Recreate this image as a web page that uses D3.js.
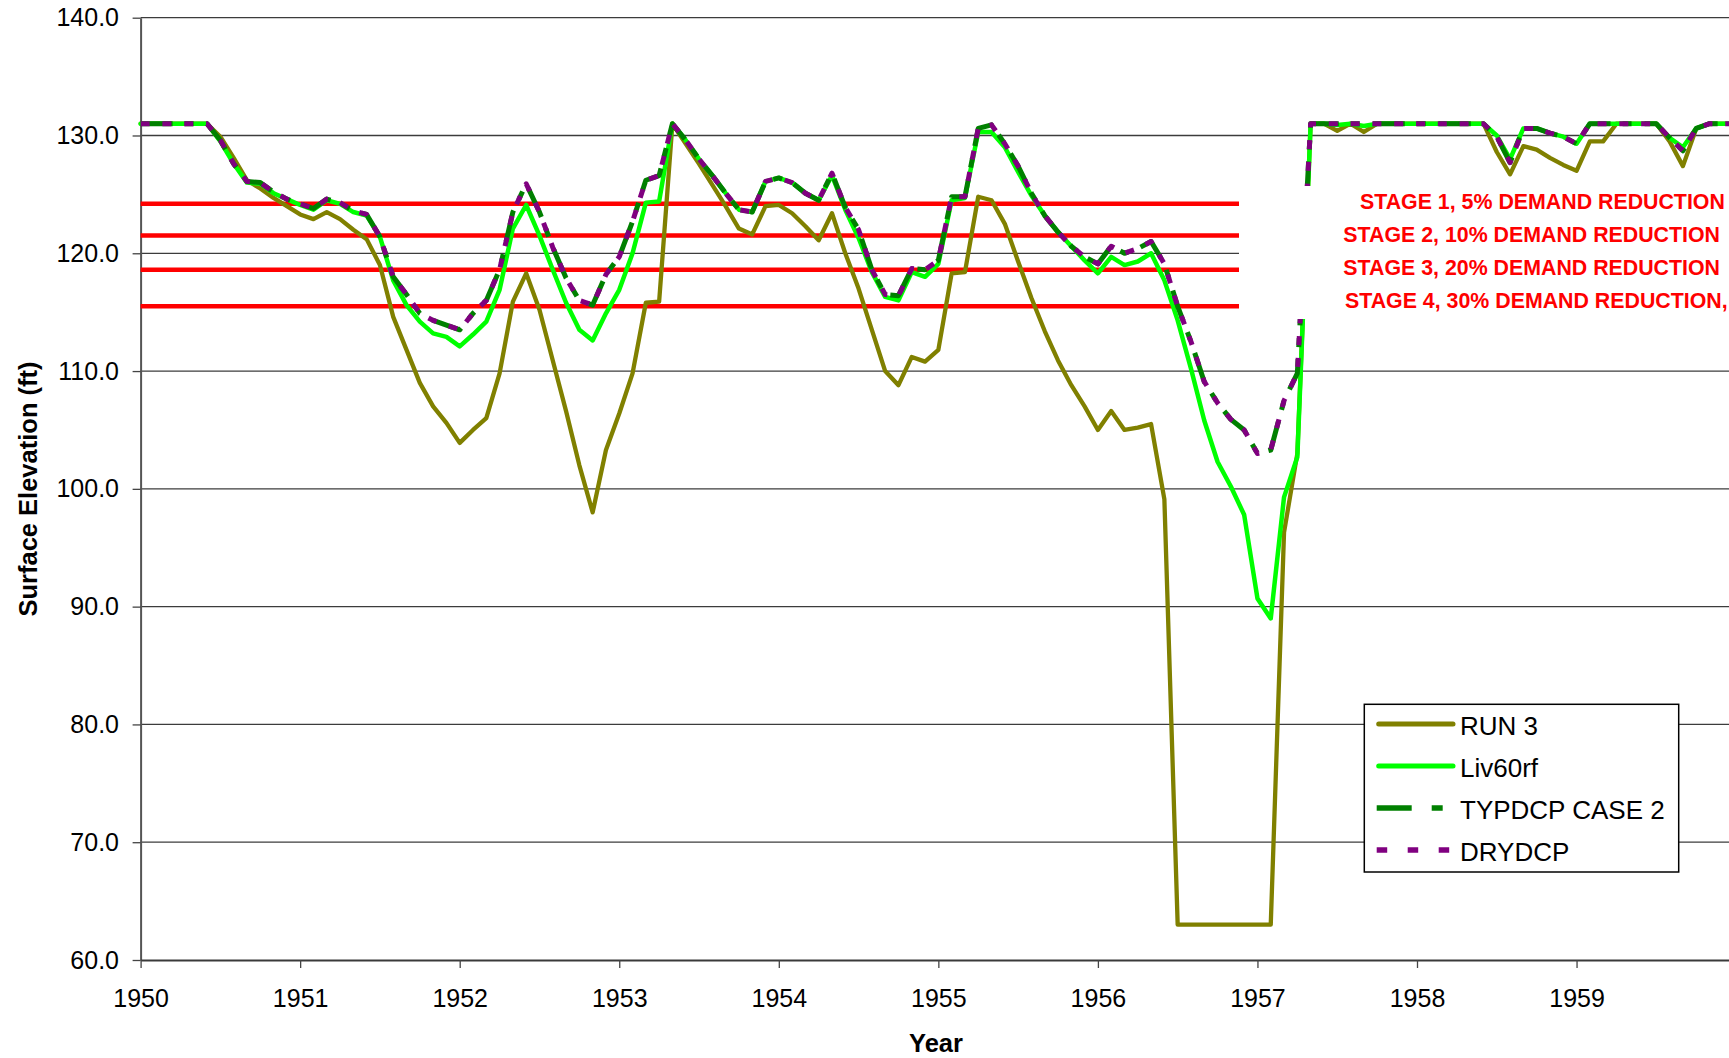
<!DOCTYPE html>
<html>
<head>
<meta charset="utf-8">
<script src="https://cdn.jsdelivr.net/npm/d3@7"></script>
<style>
  html, body { margin: 0; padding: 0; background: #fff; overflow: hidden; }
  svg { display: block; }
  text { font-family: "Liberation Sans", Arial, Helvetica, sans-serif; }
</style>
</head>
<body>
<svg id="chart" width="1729" height="1058"></svg>
<script>
// Monthly reservoir surface elevation (ft), January 1950 onward
const startYear = 1950;

const run3 = [
  131.0,131.0,131.0,131.0,131.0,131.0,
  129.9,128.1,126.2,125.5,124.7,124.0,
  123.3,122.9,123.5,122.9,122.0,121.2,
  119.0,114.6,111.8,109.0,107.0,105.6,
  103.9,105.0,106.0,109.8,115.9,118.3,
  115.2,110.9,106.6,102.0,98.0,103.3,
  106.4,109.8,115.8,115.9,131.0,129.3,
  127.6,125.8,124.0,122.1,121.6,124.0,
  124.1,123.4,122.3,121.1,123.4,120.0,
  117.0,113.5,110.0,108.8,111.2,110.8,
  111.8,118.3,118.4,124.8,124.5,122.5,
  119.3,116.2,113.4,110.9,108.8,107.0,
  105.0,106.6,105.0,105.2,105.5,99.1,
  63.0,63.0,63.0,63.0,63.0,63.0,
  63.0,63.0,96.3,103.0,131.0,131.0,
  130.4,131.0,130.3,131.0,131.0,131.0,
  131.0,131.0,131.0,131.0,131.0,131.0,
  128.6,126.7,129.1,128.8,128.1,127.5,
  127.0,129.5,129.5,131.0,131.0,131.0,
  131.0,129.5,127.4,130.6,131.0,131.0,
  131.0
];

const liv60rf = [
  131.0,131.0,131.0,131.0,131.0,131.0,
  129.5,127.6,126.0,125.9,125.1,124.6,
  124.1,123.7,124.5,124.2,123.5,123.2,
  121.4,117.7,115.6,114.2,113.2,112.9,
  112.1,113.1,114.2,116.9,122.1,124.1,
  121.5,118.6,115.8,113.5,112.6,114.9,
  116.9,120.0,124.3,124.4,131.0,129.6,
  128.0,126.6,125.1,123.7,123.5,126.1,
  126.4,126.0,125.1,124.5,126.6,123.7,
  121.3,118.4,116.3,116.0,118.4,118.0,
  119.1,124.5,124.7,130.3,130.3,129.0,
  126.9,124.9,123.2,121.8,120.6,119.4,
  118.3,119.7,119.0,119.3,120.0,117.7,
  114.3,110.2,105.8,102.3,100.2,97.8,
  90.7,89.0,99.3,102.7,131.0,131.0,
  130.9,131.0,130.8,131.0,131.0,131.0,
  131.0,131.0,131.0,131.0,131.0,131.0,
  130.0,128.0,130.6,130.6,130.2,129.9,
  129.3,131.0,131.0,131.0,131.0,131.0,
  131.0,129.8,129.0,130.6,131.0,131.0,
  131.0
];

const typdcpCase2 = [
  131.0,131.0,131.0,131.0,131.0,131.0,
  129.6,127.6,126.1,126.0,125.2,124.6,
  124.2,123.8,124.6,124.3,123.6,123.3,
  121.4,118.0,116.5,114.9,114.3,113.9,
  113.5,114.9,116.0,118.6,123.5,125.9,
  123.5,120.5,117.9,116.0,115.6,118.2,
  119.7,122.7,126.2,126.6,131.0,129.6,
  128.0,126.6,125.1,123.7,123.5,126.1,
  126.4,126.0,125.1,124.5,126.8,123.9,
  122.0,118.6,116.5,116.4,118.7,118.6,
  119.4,124.8,124.8,130.6,130.9,129.3,
  127.4,125.1,123.2,121.8,120.6,119.7,
  119.1,120.6,120.0,120.4,121.0,119.1,
  115.5,112.5,109.1,107.3,105.9,105.0,
  103.0,103.3,107.5,109.8,131.0,131.0,
  131.0,131.0,131.0,131.0,131.0,131.0,
  131.0,131.0,131.0,131.0,131.0,131.0,
  129.9,127.7,130.6,130.6,130.2,129.9,
  129.3,131.0,131.0,131.0,131.0,131.0,
  131.0,129.8,128.7,130.6,131.0,131.0,
  131.0
];

const drydcp = [
  131.0,131.0,131.0,131.0,131.0,131.0,
  129.6,127.6,126.1,126.0,125.2,124.6,
  124.2,123.8,124.6,124.3,123.6,123.3,
  121.4,118.0,116.5,114.9,114.3,113.9,
  113.5,114.9,116.0,118.6,123.5,125.9,
  123.5,120.5,117.9,116.0,115.6,118.2,
  119.7,122.7,126.2,126.6,131.0,129.6,
  128.0,126.6,125.1,123.7,123.5,126.1,
  126.4,126.0,125.1,124.5,126.8,123.9,
  122.0,118.6,116.5,116.4,118.7,118.6,
  119.4,124.8,124.8,130.6,130.9,129.3,
  127.4,125.1,123.2,121.8,120.6,119.7,
  119.1,120.6,120.0,120.4,121.0,119.1,
  115.5,112.5,109.1,107.3,105.9,105.0,
  103.0,103.3,107.5,109.8,131.0,131.0,
  131.0,131.0,131.0,131.0,131.0,131.0,
  131.0,131.0,131.0,131.0,131.0,131.0,
  129.9,127.7,130.6,130.6,130.2,129.9,
  129.3,131.0,131.0,131.0,131.0,131.0,
  131.0,129.8,128.7,130.6,131.0,131.0,
  131.0
];

// Drought stage trigger elevations (ft)
const stageLevels = [124.2, 121.5, 118.6, 115.5];
const stageLabels = [
  "STAGE 1, 5% DEMAND REDUCTION",
  "STAGE 2, 10% DEMAND REDUCTION",
  "STAGE 3, 20% DEMAND REDUCTION",
  "STAGE 4, 30% DEMAND REDUCTION,"
];

const yearTicks = [1950, 1951, 1952, 1953, 1954, 1955, 1956, 1957, 1958, 1959];
const elevationTicks = [60, 70, 80, 90, 100, 110, 120, 130, 140];

const seriesNames = ["RUN 3", "Liv60rf", "TYPDCP CASE 2", "DRYDCP"];

// ---------------------------------------------------------------
const svg = d3.select("#chart");
const W = 1729, H = 1058;

const x = d3.scaleLinear().domain([1950, 1960]).range([140.6, 1736.1]);
const y = d3.scaleLinear().domain([60, 140]).range([960, 17.7]);

const series = [
  { name: seriesNames[0], values: run3,        color: "#808000", width: 4.3, dash: null,        cap: "round" },
  { name: seriesNames[1], values: liv60rf,     color: "#00ff00", width: 4.5, dash: null,        cap: "round" },
  { name: seriesNames[2], values: typdcpCase2, color: "#008000", width: 5,   dash: "32,12,9,13", cap: "butt" },
  { name: seriesNames[3], values: drydcp,      color: "#800080", width: 5,   dash: "9,12.8",     cap: "butt" }
];

// horizontal gridlines
svg.append("g")
  .selectAll("line")
  .data(elevationTicks.filter(v => v > 60))
  .join("line")
  .attr("x1", x(1950)).attr("x2", x(1960))
  .attr("y1", d => y(d)).attr("y2", d => y(d))
  .attr("stroke", "#3c3c3c")
  .attr("stroke-width", 1.3);

// y axis
const yAxis = svg.append("g")
  .attr("transform", `translate(${x(1950)},0)`)
  .call(d3.axisLeft(y)
    .tickValues(elevationTicks)
    .tickFormat(d3.format(".1f"))
    .tickSize(8)
    .tickSizeOuter(0)
    .tickPadding(13.6));
yAxis.select(".domain").attr("stroke", "#555").attr("stroke-width", 2);
yAxis.selectAll(".tick line").attr("stroke", "#444").attr("stroke-width", 1.3);
yAxis.selectAll(".tick text")
  .attr("font-size", 25).attr("fill", "#000")
  .style("font-family", '"Liberation Sans", Arial, sans-serif');

// x axis
const xAxis = svg.append("g")
  .attr("transform", `translate(0,${y(60)})`)
  .call(d3.axisBottom(x)
    .tickValues(yearTicks)
    .tickFormat(d3.format("d"))
    .tickSize(8)
    .tickSizeOuter(0));
xAxis.select(".domain").attr("stroke", "#3a3a3a").attr("stroke-width", 2.2);
xAxis.selectAll(".tick line").attr("stroke", "#444").attr("stroke-width", 1.3);
xAxis.selectAll(".tick text")
  .attr("dy", null).attr("y", 47)
  .attr("font-size", 25).attr("fill", "#000")
  .style("font-family", '"Liberation Sans", Arial, sans-serif');

// drought stage trigger lines
svg.append("g")
  .selectAll("line")
  .data(stageLevels)
  .join("line")
  .attr("x1", x(1950)).attr("x2", x(1960))
  .attr("y1", d => y(d)).attr("y2", d => y(d))
  .attr("stroke", "#ff0000")
  .attr("stroke-width", 4.5);

// elevation traces
const line = d3.line()
  .x((d, i) => x(startYear + i / 12))
  .y(d => y(d));

svg.append("g")
  .selectAll("path")
  .data(series)
  .join("path")
  .attr("d", d => line(d.values))
  .attr("fill", "none")
  .attr("stroke", d => d.color)
  .attr("stroke-width", d => d.width)
  .attr("stroke-linejoin", "round")
  .attr("stroke-linecap", d => d.cap)
  .attr("stroke-dasharray", d => d.dash);

// stage caption panel
const panel = svg.append("g");
panel.append("rect")
  .attr("x", 1239).attr("y", 186)
  .attr("width", W - 1239 + 10).attr("height", 133)
  .attr("fill", "#fff");
const stageX = [1360, 1343.3, 1343.3, 1345];
const stageY = [209, 242.3, 275, 308.3];
panel.selectAll("text")
  .data(stageLabels)
  .join("text")
  .attr("x", (d, i) => stageX[i])
  .attr("y", (d, i) => stageY[i])
  .attr("fill", "#ff0000")
  .attr("font-weight", "bold")
  .attr("font-size", 21.35)
  .text(d => d);

// axis titles
svg.append("text")
  .attr("transform", "translate(36.5,489) rotate(-90)")
  .attr("text-anchor", "middle")
  .attr("font-weight", "bold")
  .attr("font-size", 25.5)
  .attr("fill", "#000")
  .text("Surface Elevation (ft)");

svg.append("text")
  .attr("x", 936)
  .attr("y", 1052)
  .attr("text-anchor", "middle")
  .attr("font-weight", "bold")
  .attr("font-size", 25.5)
  .attr("fill", "#000")
  .text("Year");

// legend
const legend = svg.append("g");
legend.append("rect")
  .attr("x", 1364.3).attr("y", 704.3)
  .attr("width", 314.4).attr("height", 167.7)
  .attr("fill", "#fff")
  .attr("stroke", "#000")
  .attr("stroke-width", 1.5);

const legendDash = [null, null, "35,20,11,40", "10.5,20.5"];
const legendRows = legend.selectAll("g.row")
  .data(series)
  .join("g")
  .attr("class", "row")
  .attr("transform", (d, i) => `translate(0,${724 + i * 42})`);

legendRows.append("line")
  .attr("x1", (d, i) => legendDash[i] ? 1376.7 : 1378.7)
  .attr("x2", 1453)
  .attr("y1", 0).attr("y2", 0)
  .attr("stroke", d => d.color)
  .attr("stroke-width", (d, i) => legendDash[i] ? 5.5 : 5)
  .attr("stroke-linecap", d => d.cap)
  .attr("stroke-dasharray", (d, i) => legendDash[i]);

legendRows.append("text")
  .attr("x", 1460)
  .attr("y", 11)
  .attr("font-size", 26)
  .attr("fill", "#000")
  .text(d => d.name);
</script>
</body>
</html>
